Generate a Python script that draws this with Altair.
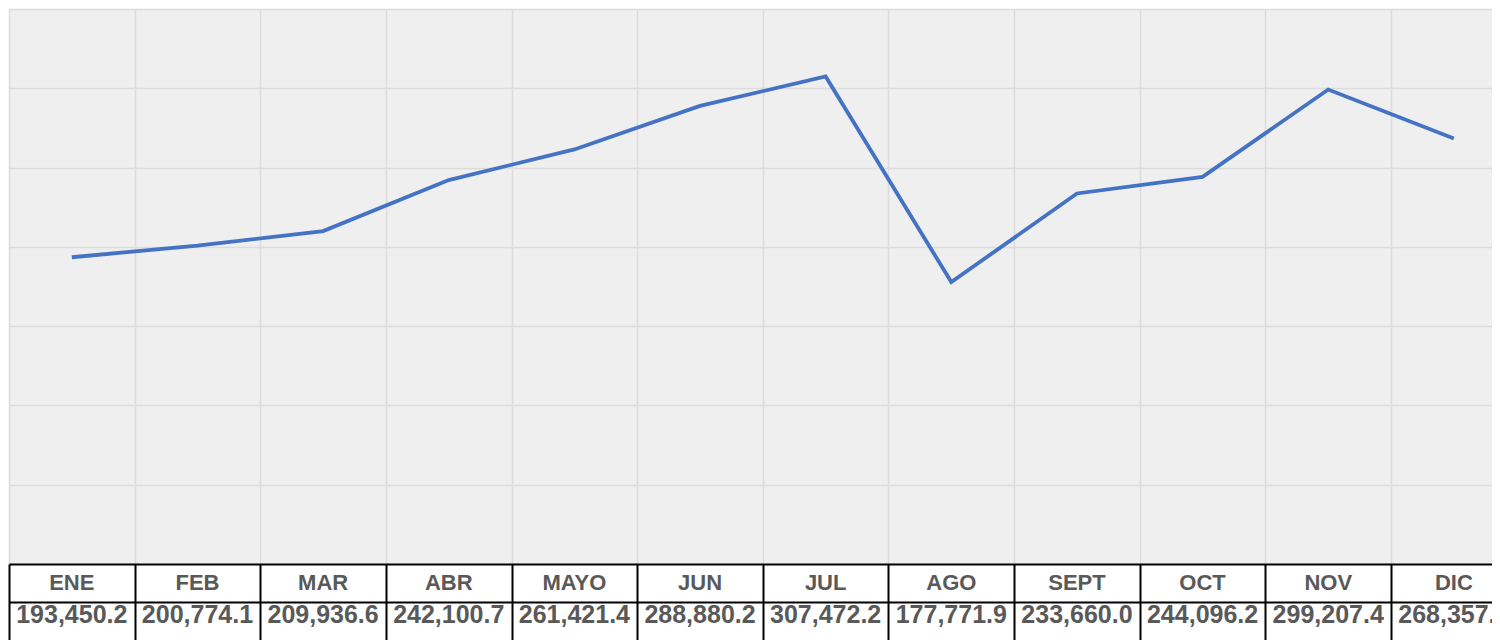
import altair as alt
import pandas as pd

months = ["ENE", "FEB", "MAR", "ABR", "MAYO", "JUN", "JUL", "AGO", "SEPT", "OCT", "NOV", "DIC"]
values = [193450.2, 200774.1, 209936.6, 242100.7, 261421.4, 288880.2,
          307472.2, 177771.9, 233660.0, 244096.2, 299207.4, 268357.4]
y_ticks = [0, 50000, 100000, 150000, 200000, 250000, 300000, 350000]

df = pd.DataFrame({"idx": list(range(len(months))), "month": months, "value": values})

PLOT_W = 1483
BAND = 125.64
X_MAX = -0.5 + PLOT_W / BAND
x_grid = [i - 0.5 for i in range(12)]

x_scale = alt.Scale(domain=[-0.5, X_MAX], nice=False, zero=False)

line = alt.Chart(df).mark_line(color="#4472C4", strokeWidth=3.8).encode(
    x=alt.X("idx:Q", scale=x_scale,
            axis=alt.Axis(values=x_grid, grid=True, labels=False, ticks=False, domain=False,
                          title=None, gridColor="#dcdcdc", gridWidth=1.5)),
    y=alt.Y("value:Q", scale=alt.Scale(domain=[0, 350000], nice=False),
            axis=alt.Axis(values=y_ticks, grid=True, labels=False, ticks=False, domain=False,
                          title=None, gridColor="#dcdcdc", gridWidth=1.5)),
).properties(width=PLOT_W, height=555,
             view=alt.ViewBackground(fill="#efefef", stroke=None))

row_scale = alt.Scale(domain=[0, 2], reverse=True, nice=False, zero=False)
x_tab = alt.X("idx:Q", scale=x_scale,
              axis=alt.Axis(values=x_grid, grid=True, labels=False, ticks=False, domain=False,
                            title=None, gridColor="#000000", gridWidth=2))
y_tab = alt.Y("row:Q", scale=row_scale,
              axis=alt.Axis(values=[0, 1], grid=True, labels=False, ticks=False, domain=False,
                            title=None, gridColor="#000000", gridWidth=2))

header = alt.Chart(df).transform_calculate(row="0.5").mark_text(
    font="Liberation Sans", fontWeight="bold", fontSize=22, color="#595959",
    baseline="middle", align="center", clip=True
).encode(x=x_tab, y=y_tab, text="month:N")

vals = alt.Chart(df).transform_calculate(row="1.5").mark_text(
    font="Liberation Sans", fontWeight="bold", fontSize=25, color="#595959",
    baseline="middle", align="center", dy=-6, clip=True
).encode(x=x_tab, y=y_tab, text=alt.Text("value:Q", format=",.1f"))

table = alt.layer(header, vals).properties(
    width=PLOT_W, height=76, view=alt.ViewBackground(fill="#ffffff", stroke=None))

chart = alt.vconcat(line, table, spacing=0).properties(
    padding={"left": 1, "top": 1, "right": 0, "bottom": 0}
).configure(background="#ffffff")

chart.save("out.html", embed_options={"renderer": "svg", "actions": False})
